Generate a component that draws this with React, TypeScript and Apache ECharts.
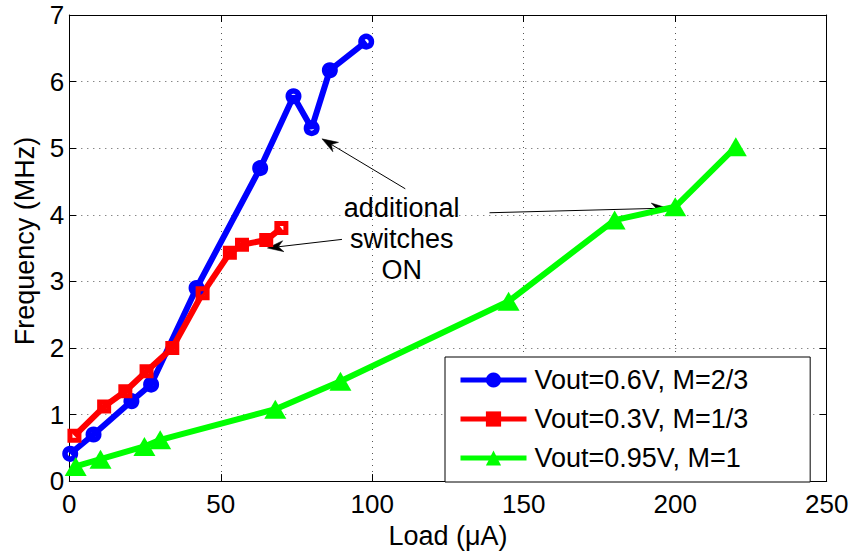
import { useEffect, useRef } from "react";
import * as echarts from "echarts";

// Load current (µA) and switching frequency (MHz) for each configuration
const loadM23 = [0.3, 8, 20.5, 27, 42, 63, 74, 80, 86, 98];
const freqM23 = [0.41, 0.7, 1.2, 1.45, 2.9, 4.7, 5.78, 5.3, 6.17, 6.6];

const loadM13 = [1.7, 11.5, 18.5, 25.5, 34, 44, 53, 57, 65, 70];
const freqM13 = [0.68, 1.12, 1.35, 1.65, 2.0, 2.82, 3.43, 3.55, 3.62, 3.8];

const loadM1 = [2.1, 10.3, 24.8, 30, 68, 89.5, 145, 180, 200, 220];
const freqM1 = [0.22, 0.33, 0.52, 0.62, 1.08, 1.5, 2.7, 3.92, 4.12, 5.02];

const seriesNames = ["Vout=0.6V, M=2/3", "Vout=0.3V, M=1/3", "Vout=0.95V, M=1"];
const xTicks = { min: 0, max: 250, step: 50 };
const yTicks = { min: 0, max: 7, step: 1 };

// Callout text and the arrows from it, in data units (load, frequency)
const noteText = "additional\nswitches\nON";
const noteAnchor = [109.7, 3.63];
const noteArrows = [
  { from: [110.9, 4.39], to: [83.4, 5.14] },
  { from: [90.0, 3.63], to: [65.4, 3.5] },
  { from: [138.7, 4.03], to: [197.4, 4.1] },
];

const FONT = "'Liberation Sans', Helvetica, Arial, sans-serif";
const BLUE = "#0000ff";
const RED = "#ff0000";
const GREEN = "#00ff00";
const LINE_W = 6;

const pairs = (xs: number[], ys: number[]) => xs.map((x, i) => [x, ys[i]]);

const gridLine = { show: true, lineStyle: { color: "#555", width: 1, type: [1, 5] as number[] } };
const frame = { show: true, onZero: false, lineStyle: { color: "#000", width: 1 } };
const innerTick = { show: true, inside: true, length: 7, lineStyle: { color: "#000", width: 1 } };

function buildOption(): echarts.EChartsOption {
  return {
    animation: false,
    backgroundColor: "#fff",
    textStyle: { fontFamily: FONT },
    grid: { left: 69.3, top: 15, right: 25.3, bottom: 65.7, containLabel: false },
    xAxis: [
      {
        type: "value",
        position: "bottom",
        min: xTicks.min,
        max: xTicks.max,
        interval: xTicks.step,
        name: "Load (μA)",
        nameLocation: "middle",
        nameGap: 36,
        nameTextStyle: { color: "#000", fontSize: 27, fontFamily: FONT },
        axisLine: frame,
        axisTick: innerTick,
        axisLabel: { color: "#000", fontSize: 26, fontFamily: FONT, margin: 10 },
        splitLine: gridLine,
      },
      {
        type: "value",
        position: "top",
        min: xTicks.min,
        max: xTicks.max,
        interval: xTicks.step,
        axisLine: frame,
        axisTick: innerTick,
        axisLabel: { show: false },
        splitLine: { show: false },
      },
    ],
    yAxis: [
      {
        type: "value",
        position: "left",
        min: yTicks.min,
        max: yTicks.max,
        interval: yTicks.step,
        name: "Frequency (MHz)",
        nameLocation: "middle",
        nameGap: 30,
        nameTextStyle: { color: "#000", fontSize: 27, fontFamily: FONT, padding: [0, 0, 0, 14] },
        axisLine: frame,
        axisTick: innerTick,
        axisLabel: { color: "#000", fontSize: 26, fontFamily: FONT, margin: 5 },
        splitLine: gridLine,
      },
      {
        type: "value",
        position: "right",
        min: yTicks.min,
        max: yTicks.max,
        interval: yTicks.step,
        axisLine: frame,
        axisTick: innerTick,
        axisLabel: { show: false },
        splitLine: { show: false },
      },
    ],
    legend: {
      orient: "vertical",
      left: 445,
      top: 357,
      backgroundColor: "#fff",
      borderColor: "#000",
      borderWidth: 1,
      borderRadius: 0,
      padding: [9.5, 62, 10.5, 13],
      itemWidth: 66,
      itemHeight: 19,
      itemGap: 12,
      lineStyle: { width: 5 },
      textStyle: { color: "#000", fontSize: 27, lineHeight: 27, fontFamily: FONT, padding: [0, 0, 0, 3] },
      data: [
        { name: seriesNames[0], itemStyle: { color: BLUE, borderWidth: 0 } },
        { name: seriesNames[1], itemStyle: { color: RED, borderWidth: 0 } },
        { name: seriesNames[2], itemStyle: { color: GREEN, borderWidth: 0 } },
      ],
    },
    series: [
      {
        name: seriesNames[0],
        type: "line",
        xAxisIndex: 0,
        yAxisIndex: 0,
        data: pairs(loadM23, freqM23),
        color: BLUE,
        symbol: "circle",
        symbolSize: 10.5,
        showAllSymbol: true,
        lineStyle: { color: BLUE, width: LINE_W },
        itemStyle: { color: "rgba(0,0,0,0)", borderColor: BLUE, borderWidth: 5.5 },
      },
      {
        name: seriesNames[1],
        type: "line",
        xAxisIndex: 0,
        yAxisIndex: 0,
        data: pairs(loadM13, freqM13),
        color: RED,
        symbol: "rect",
        symbolSize: 9,
        showAllSymbol: true,
        lineStyle: { color: RED, width: LINE_W },
        itemStyle: { color: "rgba(0,0,0,0)", borderColor: RED, borderWidth: 5 },
      },
      {
        name: seriesNames[2],
        type: "line",
        xAxisIndex: 0,
        yAxisIndex: 0,
        data: pairs(loadM1, freqM1),
        color: GREEN,
        symbol: "triangle",
        symbolSize: [22, 19],
        showAllSymbol: true,
        lineStyle: { color: GREEN, width: LINE_W },
        itemStyle: { color: GREEN },
      },
    ],
  };
}

// Thin arrow with a swept-back filled head, in pixel space
function arrowGraphic(from: number[], to: number[]) {
  const dx = to[0] - from[0];
  const dy = to[1] - from[1];
  const len = Math.hypot(dx, dy) || 1;
  const ux = dx / len;
  const uy = dy / len;
  const nx = -uy;
  const ny = ux;
  const headLen = 16;
  const headHalf = 5.5;
  const notch = 11;
  const back = [to[0] - ux * headLen, to[1] - uy * headLen];
  const mid = [to[0] - ux * notch, to[1] - uy * notch];
  return {
    type: "group",
    silent: true,
    children: [
      {
        type: "line",
        shape: { x1: from[0], y1: from[1], x2: mid[0], y2: mid[1] },
        style: { stroke: "#000", lineWidth: 1 },
      },
      {
        type: "polygon",
        shape: {
          points: [
            to,
            [back[0] + nx * headHalf, back[1] + ny * headHalf],
            mid,
            [back[0] - nx * headHalf, back[1] - ny * headHalf],
          ],
        },
        style: { fill: "#000", stroke: "#000", lineWidth: 0.5 },
      },
    ],
  };
}

export default function App() {
  const ref = useRef<HTMLDivElement>(null);

  useEffect(() => {
    if (!ref.current) return;
    const chart = echarts.init(ref.current, null, { renderer: "svg" });
    chart.setOption(buildOption());

    const toPx = (p: number[]) => chart.convertToPixel({ seriesIndex: 0 }, p) as number[];
    const anchor = toPx(noteAnchor);
    chart.setOption({
      graphic: [
        ...noteArrows.map((a) => arrowGraphic(toPx(a.from), toPx(a.to))),
        {
          type: "text",
          silent: true,
          x: anchor[0],
          y: anchor[1],
          style: {
            text: noteText,
            fill: "#000",
            font: `27px ${FONT}`,
            align: "center",
            verticalAlign: "middle",
            lineHeight: 31,
          },
        },
      ],
    });

    return () => chart.dispose();
  }, []);

  return (
    <div
      ref={ref}
      style={{ position: "fixed", left: 0, top: 0, width: 852, height: 554 }}
    />
  );
}
